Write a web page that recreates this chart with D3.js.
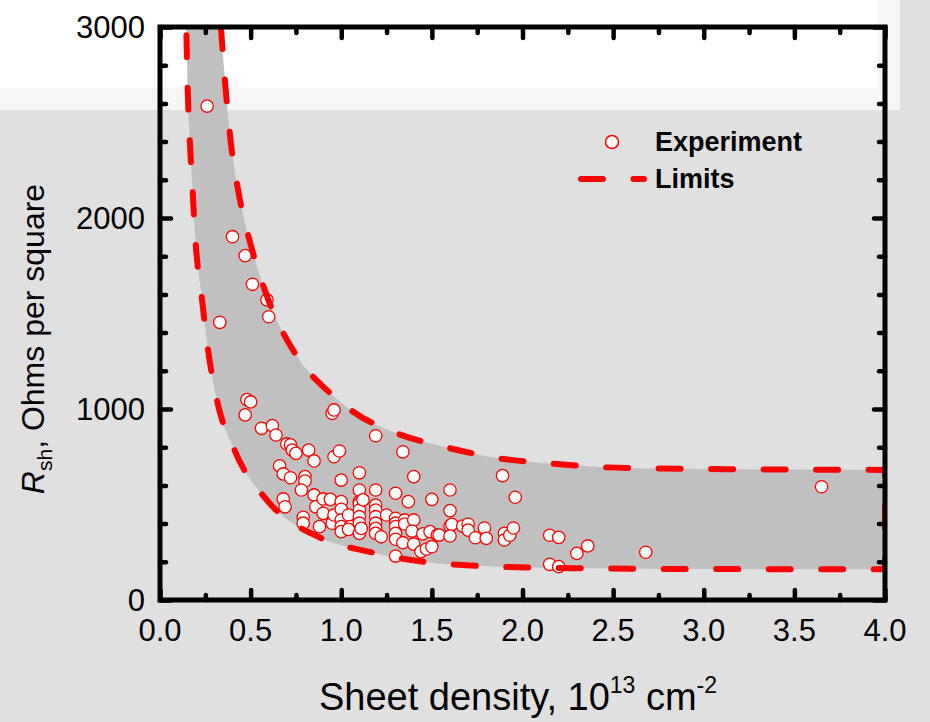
<!DOCTYPE html>
<html>
<head>
<meta charset="utf-8">
<script src="https://cdn.jsdelivr.net/npm/d3@7"></script>
<style>
  html, body { margin: 0; padding: 0; background: #e0e0e0; }
  svg { display: block; }
  text { font-family: Arial, "Liberation Sans", Helvetica, sans-serif; fill: #000; }
</style>
</head>
<body>
<svg id="chart" width="930" height="722"></svg>
<script>
// ---- data ----------------------------------------------------------------
const xTicksMajor = [0, 0.5, 1.0, 1.5, 2.0, 2.5, 3.0, 3.5, 4.0];
const xTicksMinor = [0.25, 0.75, 1.25, 1.75, 2.25, 2.75, 3.25, 3.75];
const yTicksMajor = [0, 1000, 2000, 3000];
const yTicksMinor = [200, 400, 600, 800, 1200, 1400, 1600, 1800, 2200, 2400, 2600, 2800];

// measured sheet density (1e13 cm^-2) and sheet resistance (Ohm/sq)
const expDensity = [
  0.26, 0.33, 0.40, 0.47, 0.51, 0.59, 0.60, 0.48, 0.50, 0.47,
  0.95, 0.96, 0.56, 0.62, 0.64, 0.70, 0.72, 0.73, 0.75, 0.82,
  0.85, 0.96, 0.99, 1.19, 1.34, 0.66, 0.68, 0.72, 0.80, 0.80,
  0.78, 0.85, 0.68, 0.69, 0.79, 0.79, 0.88, 0.86, 0.90, 0.94,
  0.90, 0.95, 0.96, 1.00, 1.00, 1.00, 1.00, 1.00, 1.00, 1.04,
  1.05, 1.04, 1.10, 1.10, 1.10, 1.10, 1.10, 1.10, 1.10, 1.10,
  1.12, 1.11, 1.19, 1.19, 1.19, 1.19, 1.19, 1.19, 1.19, 1.22,
  1.25, 1.30, 1.30, 1.30, 1.30, 1.30, 1.30, 1.30, 1.35, 1.35,
  1.34, 1.37, 1.40, 1.40, 1.39, 1.40, 1.45, 1.44, 1.47, 1.50,
  1.50, 1.49, 1.53, 1.60, 1.60, 1.60, 1.61, 1.54, 1.60, 1.67,
  1.70, 1.70, 1.74, 1.79, 1.80, 1.89, 1.96, 1.90, 1.90, 1.93,
  1.95, 2.15, 2.20, 2.36, 2.30, 2.15, 2.20, 2.68, 3.65
];
const expRsh = [
  2586, 1454, 1902, 1803, 1653, 1571, 1483, 1049, 1037, 969,
  977, 995, 899, 913, 864, 817, 812, 785, 768, 785,
  728, 750, 780, 860, 776, 702, 660, 640, 646, 623,
  576, 550, 529, 488, 433, 402, 384, 488, 529, 527,
  454, 402, 445, 628, 515, 475, 419, 384, 358, 445,
  384, 370, 666, 576, 515, 503, 471, 436, 402, 349,
  524, 375, 576, 497, 471, 436, 402, 375, 349, 331,
  445, 559, 428, 402, 384, 349, 318, 230, 419, 398,
  300, 515, 646, 419, 361, 293, 346, 253, 267, 279,
  527, 358, 340, 576, 468, 387, 396, 340, 335, 387,
  398, 366, 326, 377, 323, 651, 538, 349, 314, 339,
  377, 339, 328, 283, 244, 187, 175, 250, 593
];

// upper and lower limit curves
const upperDensity = [0.336, 0.36, 0.391, 0.437, 0.507, 0.598, 0.744, 0.94, 1.065, 1.295, 1.59, 1.868, 2.16, 2.446, 2.7, 3.0, 3.5, 4.0];
const upperRsh     = [3000, 2700, 2393, 2115, 1838, 1571, 1293, 1082, 986, 877, 797, 742, 714, 695, 689, 686, 683, 681];
const lowerDensity = [0.145, 0.152, 0.163, 0.179, 0.196, 0.228, 0.262, 0.312, 0.411, 0.597, 0.882, 1.171, 1.46, 1.749, 2.04, 2.33, 2.6, 3.0, 4.0];
const lowerRsh     = [3000, 2700, 2435, 2157, 1876, 1606, 1331, 1056, 785, 515, 327, 249, 199, 179, 170, 166, 164, 162, 161];

// ---- layout --------------------------------------------------------------
const svg = d3.select("#chart");
const W = 930, H = 722;
const x = d3.scaleLinear().domain([0, 4]).range([160, 885]);
const y = d3.scaleLinear().domain([0, 3000]).range([600, 27]);
const RED = "#ff0000";

// page backdrop
svg.append("rect").attr("width", W).attr("height", H).attr("fill", "#e0e0e0");
svg.append("rect").attr("x", 0).attr("y", 0).attr("width", 900).attr("height", 110).attr("fill", "#f6f6f6");
svg.append("rect").attr("x", 0).attr("y", 0).attr("width", 878).attr("height", 88).attr("fill", "#ffffff");

svg.append("clipPath").attr("id", "plotClip")
  .append("rect")
  .attr("x", x(0)).attr("y", y(3000))
  .attr("width", x(4) - x(0)).attr("height", y(0) - y(3000));

const plot = svg.append("g").attr("clip-path", "url(#plotClip)");

// limits: upper curve, down the right edge, back along the lower curve
const upperPts = upperDensity.map((d, i) => [x(d), y(upperRsh[i])]);
const lowerPts = lowerDensity.map((d, i) => [x(d), y(lowerRsh[i])]).reverse();
const curve = d3.line().curve(d3.curveMonotoneX);
const limitsPath = curve(upperPts) + curve(lowerPts).replace(/^M/, "L");

plot.append("path").attr("d", limitsPath).attr("fill", "#c0c0c0").attr("stroke", "none");

// experimental points
plot.selectAll("circle.exp")
  .data(expDensity.map((d, i) => [d, expRsh[i]]))
  .join("circle")
  .attr("class", "exp")
  .attr("cx", d => x(d[0]))
  .attr("cy", d => y(d[1]))
  .attr("r", 6.2)
  .attr("fill", "#fff")
  .attr("stroke", RED)
  .attr("stroke-width", 1.3);

plot.append("path").attr("d", limitsPath)
  .attr("fill", "none")
  .attr("stroke", RED)
  .attr("stroke-width", 6)
  .attr("stroke-linecap", "round")
  .attr("stroke-dasharray", "22,30.5");

// ---- axes (ticks pointing inward on all four sides) ----------------------
function styleTicks(g) {
  g.select(".domain").remove();
  g.selectAll(".tick line").attr("stroke", "#000").attr("stroke-width", 4.5).attr("stroke-linecap", "round");
}
const noLabel = () => "";

svg.append("g").attr("transform", `translate(0,${y(0)})`)
  .call(d3.axisBottom(x).tickValues(xTicksMajor).tickSize(-10).tickFormat(noLabel)).call(styleTicks);
svg.append("g").attr("transform", `translate(0,${y(0)})`)
  .call(d3.axisBottom(x).tickValues(xTicksMinor).tickSize(-5).tickFormat(noLabel)).call(styleTicks);
svg.append("g").attr("transform", `translate(0,${y(3000)})`)
  .call(d3.axisTop(x).tickValues(xTicksMajor).tickSize(-11).tickFormat(noLabel)).call(styleTicks);
svg.append("g").attr("transform", `translate(0,${y(3000)})`)
  .call(d3.axisTop(x).tickValues(xTicksMinor).tickSize(-6).tickFormat(noLabel)).call(styleTicks);
svg.append("g").attr("transform", `translate(${x(0)},0)`)
  .call(d3.axisLeft(y).tickValues(yTicksMajor).tickSize(-11).tickFormat(noLabel)).call(styleTicks);
svg.append("g").attr("transform", `translate(${x(0)},0)`)
  .call(d3.axisLeft(y).tickValues(yTicksMinor).tickSize(-6).tickFormat(noLabel)).call(styleTicks);
svg.append("g").attr("transform", `translate(${x(4)},0)`)
  .call(d3.axisRight(y).tickValues(yTicksMajor).tickSize(-11).tickFormat(noLabel)).call(styleTicks);
svg.append("g").attr("transform", `translate(${x(4)},0)`)
  .call(d3.axisRight(y).tickValues(yTicksMinor).tickSize(-6).tickFormat(noLabel)).call(styleTicks);

// frame
svg.append("rect")
  .attr("x", x(0)).attr("y", y(3000))
  .attr("width", x(4) - x(0)).attr("height", y(0) - y(3000))
  .attr("fill", "none").attr("stroke", "#000").attr("stroke-width", 5);

// tick labels
svg.append("g").selectAll("text")
  .data(xTicksMajor).join("text")
  .attr("x", d => x(d)).attr("y", 641)
  .attr("text-anchor", "middle").attr("font-size", 31)
  .text(d => d3.format(".1f")(d));

svg.append("g").selectAll("text")
  .data(yTicksMajor).join("text")
  .attr("x", 145).attr("y", d => y(d)).attr("dy", "0.36em")
  .attr("text-anchor", "end").attr("font-size", 31)
  .text(d => d);

// axis titles
const xt = svg.append("text").attr("x", 518).attr("y", 710)
  .attr("text-anchor", "middle").attr("font-size", 38);
xt.append("tspan").text("Sheet density, 10");
xt.append("tspan").attr("font-size", 23).attr("dy", -17).text("13");
xt.append("tspan").attr("dy", 17).text(" cm");
xt.append("tspan").attr("font-size", 23).attr("dy", -17).text("-2");

const yt = svg.append("text").attr("transform", "translate(44,339) rotate(-90)")
  .attr("text-anchor", "middle").attr("font-size", 32);
yt.append("tspan").attr("font-style", "italic").text("R");
yt.append("tspan").attr("font-size", 21).attr("dy", 8).text("sh");
yt.append("tspan").attr("dy", -8).text(", Ohms per square");

// legend
const lg = svg.append("g");
lg.append("circle").attr("cx", 612).attr("cy", 142).attr("r", 6.5)
  .attr("fill", "#fff").attr("stroke", RED).attr("stroke-width", 1.5);
lg.append("text").attr("x", 655).attr("y", 151).attr("font-size", 27).attr("font-weight", "bold").text("Experiment");
lg.append("line").attr("x1", 581).attr("x2", 644).attr("y1", 179).attr("y2", 179)
  .attr("stroke", RED).attr("stroke-width", 6).attr("stroke-linecap", "round")
  .attr("stroke-dasharray", "22,30.5");
lg.append("text").attr("x", 655).attr("y", 188).attr("font-size", 27).attr("font-weight", "bold").text("Limits");
</script>
</body>
</html>
